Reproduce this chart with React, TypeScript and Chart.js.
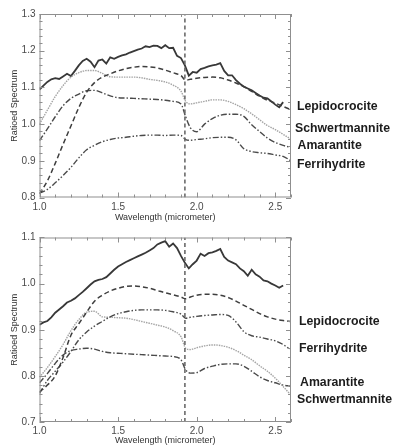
import React, { useEffect, useRef } from "react";
import { Chart, registerables } from "chart.js";

Chart.register(...registerables);

// ---------- DATA ----------
const xTicks = [1.0, 1.5, 2.0, 2.5];
const topYTicks = [0.8, 0.9, 1.0, 1.1, 1.2, 1.3];
const bottomYTicks = [0.7, 0.8, 0.9, 1.0, 1.1];
const bandCenter = 1.925; // dashed vertical marker (micrometer)

// measured spectrum wavelengths
const solidWl = [
  1.0, 1.025, 1.05, 1.075, 1.1, 1.125, 1.15, 1.175, 1.2, 1.225,
  1.25, 1.275, 1.3, 1.325, 1.35, 1.375, 1.4, 1.425, 1.45, 1.475,
  1.5, 1.525, 1.55, 1.575, 1.6, 1.625, 1.65, 1.675, 1.7, 1.725,
  1.75, 1.775, 1.8, 1.825, 1.85, 1.875, 1.9, 1.925, 1.95, 1.975,
  2.0, 2.025, 2.05, 2.075, 2.1, 2.125, 2.15, 2.175, 2.2, 2.225,
  2.25, 2.275, 2.3, 2.325, 2.35, 2.375, 2.4, 2.425, 2.45, 2.475,
  2.5, 2.525, 2.55,
];

// mineral reference spectra wavelengths
const mineralWl = [
  1.0, 1.05, 1.1, 1.15, 1.2, 1.25, 1.3, 1.35, 1.4, 1.45,
  1.5, 1.55, 1.6, 1.65, 1.7, 1.75, 1.8, 1.85, 1.9, 1.93,
  1.96, 2.0, 2.05, 2.1, 2.15, 2.2, 2.25, 2.3, 2.35, 2.4,
  2.45, 2.5, 2.55, 2.6,
];

// ---- top panel ----
const topMeasured = [
  1.094, 1.105, 1.115, 1.122, 1.125, 1.123, 1.13, 1.137, 1.131, 1.145,
  1.16, 1.172, 1.178, 1.17, 1.155, 1.173, 1.176, 1.165, 1.182, 1.178,
  1.183, 1.187, 1.19, 1.195, 1.199, 1.203, 1.206, 1.212, 1.21, 1.214,
  1.213, 1.207, 1.215, 1.207, 1.208, 1.186, 1.18, 1.16, 1.132, 1.142,
  1.14, 1.15, 1.153, 1.157, 1.16, 1.162, 1.166, 1.145, 1.133, 1.133,
  1.12, 1.11, 1.102, 1.097, 1.092, 1.085, 1.078, 1.072, 1.07, 1.062,
  1.053, 1.046, 1.06,
];
const topLepidocrocite = [
  0.81, 0.845, 0.893, 0.945, 0.995, 1.045, 1.087, 1.113, 1.128, 1.137,
  1.145, 1.151, 1.155, 1.157, 1.156, 1.153, 1.147, 1.14, 1.132, 1.12,
  1.122, 1.125, 1.127, 1.128, 1.126, 1.12, 1.112, 1.102, 1.089, 1.076,
  1.065, 1.057, 1.048, 1.039,
];
const topSchwertmannite = [
  1.0, 1.038, 1.075, 1.105, 1.128, 1.14, 1.146, 1.146, 1.138, 1.129,
  1.128, 1.128, 1.128, 1.126, 1.122, 1.119, 1.115, 1.106, 1.09, 1.062,
  1.055, 1.058, 1.062, 1.066, 1.066, 1.062, 1.053, 1.042, 1.028, 1.012,
  0.996, 0.985, 0.972, 0.959,
];
const topAmarantite = [
  0.955, 0.987, 1.02, 1.05, 1.07, 1.082, 1.091, 1.092, 1.085, 1.077,
  1.072, 1.071, 1.07, 1.069, 1.068, 1.067, 1.065, 1.062, 1.055, 1.02,
  0.99, 0.979, 1.0, 1.015, 1.024, 1.027, 1.027, 1.021, 0.998, 0.98,
  0.962, 0.95, 0.942, 0.936,
];
const topFerrihydrite = [
  0.812, 0.822, 0.84, 0.86, 0.882, 0.908, 0.93, 0.942, 0.952, 0.958,
  0.962, 0.964, 0.967, 0.969, 0.97, 0.97, 0.969, 0.97, 0.969, 0.958,
  0.956, 0.958, 0.96, 0.963, 0.964, 0.964, 0.957, 0.933, 0.925, 0.922,
  0.92, 0.916, 0.912, 0.9,
];
const topLabels = ["Lepidocrocite", "Schwertmannite", "Amarantite", "Ferrihydrite"];
const topLabelAt = [1.047, 0.9885, 0.941, 0.891];

// ---- bottom panel ----
const bottomMeasured = [
  0.911, 0.916, 0.919, 0.927, 0.937, 0.944, 0.951, 0.959, 0.963, 0.968,
  0.975, 0.982, 0.99, 0.998, 1.005, 1.008, 1.01, 1.014, 1.022, 1.03,
  1.037, 1.042, 1.047, 1.051, 1.055, 1.059, 1.063, 1.067, 1.072, 1.077,
  1.085, 1.089, 1.092, 1.08, 1.087, 1.077, 1.06, 1.045, 1.033, 1.042,
  1.05, 1.065, 1.06, 1.066, 1.068, 1.071, 1.075, 1.058, 1.05, 1.046,
  1.042, 1.033, 1.027, 1.017, 1.03, 1.02, 1.015, 1.007, 1.005, 1.0,
  0.996, 0.991, 0.996,
];
const bottomLepidocrocite = [
  0.765, 0.78, 0.8, 0.84, 0.888, 0.913, 0.938, 0.962, 0.975, 0.984,
  0.99, 0.994, 0.995, 0.993, 0.99, 0.985, 0.98, 0.976, 0.971, 0.967,
  0.971, 0.975, 0.977, 0.977, 0.975, 0.97, 0.962, 0.953, 0.944, 0.935,
  0.928, 0.923, 0.92, 0.918,
];
const bottomFerrihydrite = [
  0.762, 0.79, 0.81, 0.83, 0.853, 0.878, 0.895, 0.908, 0.918, 0.928,
  0.935, 0.939, 0.942, 0.943, 0.943, 0.943, 0.942, 0.939, 0.934, 0.925,
  0.927, 0.929, 0.931, 0.932, 0.933, 0.931, 0.917, 0.896, 0.887, 0.884,
  0.88, 0.876, 0.868, 0.856,
];
const bottomSchwertmannite = [
  0.797, 0.818, 0.842, 0.868, 0.898, 0.922, 0.938, 0.94, 0.928, 0.927,
  0.926, 0.925, 0.922, 0.918, 0.914, 0.91, 0.906, 0.898, 0.885, 0.86,
  0.857, 0.861, 0.865, 0.867, 0.866, 0.862, 0.855, 0.845, 0.835, 0.822,
  0.81, 0.795, 0.777, 0.758,
];
const bottomAmarantite = [
  0.785, 0.805, 0.827, 0.845, 0.855, 0.858, 0.86, 0.858, 0.853, 0.85,
  0.849, 0.848, 0.847, 0.846, 0.845, 0.844, 0.843, 0.842, 0.835, 0.813,
  0.806, 0.807, 0.816, 0.821, 0.825, 0.826, 0.826, 0.821, 0.81, 0.798,
  0.79, 0.785, 0.78, 0.778,
];
const bottomLabels = ["Lepidocrocite", "Ferrihydrite", "Amarantite", "Schwertmannite"];
const bottomLabelAt = [0.9175, 0.86, 0.785, 0.749];

// ---------- STYLES ----------
const FONT = '"Liberation Sans", Arial, Helvetica, sans-serif';
const styles: Record<string, any> = {
  measured: { borderColor: "#383838", borderWidth: 1.8, borderDash: [] },
  Lepidocrocite: { borderColor: "#3e3e3e", borderWidth: 1.5, borderDash: [5, 3] },
  Schwertmannite: { borderColor: "#a4a4a4", borderWidth: 1.4, borderDash: [1.5, 1] },
  Amarantite: { borderColor: "#4a4a4a", borderWidth: 1.4, borderDash: [6, 2, 1.5, 2] },
  Ferrihydrite: { borderColor: "#4a4a4a", borderWidth: 1.4, borderDash: [6, 2, 1.5, 2, 1.5, 2] },
};

const pts = (xs: number[], ys: number[]) => xs.map((x, i) => ({ x, y: ys[i] }));

type PanelCfg = {
  yMin: number;
  yMax: number;
  yTicks: number[];
  padTop: number;
  plotBottom: number;
  measured: number[];
  minerals: { name: string; values: number[] }[];
  labels: string[];
  labelAt: number[];
  labelDx: number[];
};

const topCfg: PanelCfg = {
  yMin: 0.8,
  yMax: 1.3,
  yTicks: topYTicks,
  padTop: 14,
  plotBottom: 197.5,
  measured: topMeasured,
  minerals: [
    { name: "Lepidocrocite", values: topLepidocrocite },
    { name: "Schwertmannite", values: topSchwertmannite },
    { name: "Amarantite", values: topAmarantite },
    { name: "Ferrihydrite", values: topFerrihydrite },
  ],
  labels: topLabels,
  labelAt: topLabelAt,
  labelDx: [6, 4, 6.5, 6],
};

const bottomCfg: PanelCfg = {
  yMin: 0.7,
  yMax: 1.1,
  yTicks: bottomYTicks,
  padTop: 14.5,
  plotBottom: 199,
  measured: bottomMeasured,
  minerals: [
    { name: "Lepidocrocite", values: bottomLepidocrocite },
    { name: "Ferrihydrite", values: bottomFerrihydrite },
    { name: "Schwertmannite", values: bottomSchwertmannite },
    { name: "Amarantite", values: bottomAmarantite },
  ],
  labels: bottomLabels,
  labelAt: bottomLabelAt,
  labelDx: [8, 8, 9, 6],
};

const W = 395;
const H = 223;

const framePlugin = {
  id: "idlFrame",
  afterDraw(chart: any, _args: any, opts: any) {
    const { ctx, chartArea: a, scales } = chart;
    const x = scales.x;
    const y = scales.y;
    ctx.save();
    ctx.strokeStyle = "#8f8f8f";
    ctx.lineWidth = 1;
    ctx.strokeRect(a.left + 0.5, a.top + 0.5, a.width - 1, a.height - 1);
    ctx.beginPath();
    // x ticks (inward, bottom & top)
    for (let v = x.min; v <= x.max + 1e-6; v += 0.1) {
      const major = Math.abs(v * 2 - Math.round(v * 2)) < 1e-6;
      const len = major ? 5 : 3;
      const px = Math.round(x.getPixelForValue(v)) + 0.5;
      ctx.moveTo(px, a.bottom);
      ctx.lineTo(px, a.bottom - len);
      ctx.moveTo(px, a.top);
      ctx.lineTo(px, a.top + len);
    }
    // y ticks (inward, left & right)
    for (let v = y.min; v <= y.max + 1e-6; v += 0.02) {
      const major = Math.abs(v * 10 - Math.round(v * 10)) < 1e-6;
      const len = major ? 5 : 3;
      const py = Math.round(y.getPixelForValue(v)) + 0.5;
      ctx.moveTo(a.left, py);
      ctx.lineTo(a.left + len, py);
      ctx.moveTo(a.right, py);
      ctx.lineTo(a.right - len, py);
    }
    ctx.stroke();
    // right-hand mineral labels
    ctx.font = `bold 12.3px ${FONT}`;
    ctx.fillStyle = "#1c1c1c";
    ctx.textBaseline = "middle";
    ctx.textAlign = "left";
    opts.labels.forEach((t: string, i: number) => {
      ctx.fillText(t, a.right + opts.labelDx[i], y.getPixelForValue(opts.labelAt[i]));
    });
    ctx.restore();
  },
};

function Panel({ cfg }: { cfg: PanelCfg }) {
  const ref = useRef<HTMLCanvasElement>(null);
  useEffect(() => {
    const canvas = ref.current;
    if (!canvas) return;
    const datasets: any[] = [
      {
        label: "band",
        data: [
          { x: bandCenter, y: cfg.yMin },
          { x: bandCenter, y: cfg.yMax },
        ],
        borderColor: "#6a6a6a",
        borderWidth: 1.6,
        borderDash: [4, 3],
        pointRadius: 0,
        fill: false,
      },
      ...cfg.minerals.map((m) => ({
        label: m.name,
        data: pts(mineralWl, m.values),
        ...styles[m.name],
        pointRadius: 0,
        fill: false,
        cubicInterpolationMode: "monotone",
      })),
      {
        label: "measured",
        data: pts(solidWl, cfg.measured),
        ...styles.measured,
        pointRadius: 0,
        fill: false,
        tension: 0,
      },
    ];
    const chart = new Chart(canvas, {
      type: "line",
      data: { datasets },
      options: {
        animation: false,
        responsive: false,
        maintainAspectRatio: false,
        layout: { padding: { top: cfg.padTop, right: W - 291, bottom: 0, left: 0 } },
        plugins: {
          legend: { display: false },
          tooltip: { enabled: false },
          idlFrame: { labels: cfg.labels, labelAt: cfg.labelAt, labelDx: cfg.labelDx },
        } as any,
        scales: {
          x: {
            type: "linear",
            min: 1.0,
            max: 2.6,
            afterBuildTicks: (s: any) => {
              s.ticks = xTicks.map((v) => ({ value: v }));
            },
            afterFit: (s: any) => {
              s.height = H - cfg.plotBottom;
            },
            grid: { display: false, drawTicks: false, tickLength: 0 },
            border: { display: false },
            ticks: {
              padding: 3.5,
              color: "#4a4a4a",
              font: { family: FONT, size: 10 },
              maxRotation: 0,
              autoSkip: false,
              callback: (v: any) => Number(v).toFixed(1),
            },
            title: {
              display: true,
              text: "Wavelength (micrometer)",
              color: "#333",
              font: { family: FONT, size: 9 },
              padding: { top: 0, bottom: 0 },
            },
          },
          y: {
            type: "linear",
            min: cfg.yMin,
            max: cfg.yMax,
            afterBuildTicks: (s: any) => {
              s.ticks = cfg.yTicks.map((v) => ({ value: v }));
            },
            afterFit: (s: any) => {
              s.width = 39.5;
            },
            grid: { display: false, drawTicks: false, tickLength: 0 },
            border: { display: false },
            ticks: {
              padding: 4,
              color: "#4a4a4a",
              font: { family: FONT, size: 10 },
              autoSkip: false,
              callback: (v: any) => Number(v).toFixed(1),
            },
            title: {
              display: true,
              text: "Ratioed Spectrum",
              color: "#333",
              font: { family: FONT, size: 9 },
              padding: { top: 9, bottom: 0 },
            },
          },
        },
      },
      plugins: [framePlugin as any],
    });
    return () => chart.destroy();
  }, [cfg]);
  return (
    <canvas
      ref={ref}
      width={W}
      height={H}
      style={{ display: "block", width: W, height: H }}
    />
  );
}

export default function App() {
  return (
    <div
      style={{
        position: "fixed",
        left: 0,
        top: 0,
        width: W,
        height: 446,
        background: "#fff",
      }}
    >
      <Panel cfg={topCfg} />
      <Panel cfg={bottomCfg} />
    </div>
  );
}
